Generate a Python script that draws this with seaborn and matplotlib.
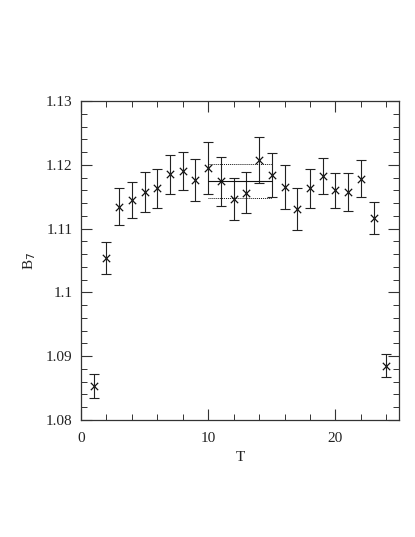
import numpy as np
import pandas as pd
import matplotlib
matplotlib.use("Agg")
import matplotlib.pyplot as plt
import seaborn as sns
from matplotlib.ticker import MultipleLocator

T = list(range(1, 25))
B7 = [1.0853, 1.1054, 1.1134, 1.1145, 1.1157, 1.1163, 1.1185, 1.1190,
      1.1176, 1.1195, 1.1174, 1.1147, 1.1156, 1.1207, 1.1184, 1.1165,
      1.1131, 1.1163, 1.1183, 1.1160, 1.1157, 1.1178, 1.1116, 1.0885]
err = [0.0019, 0.0025, 0.0029, 0.0028, 0.0031, 0.0030, 0.0030, 0.0030,
       0.0033, 0.0040, 0.0039, 0.0033, 0.0032, 0.0036, 0.0035, 0.0035,
       0.0033, 0.0030, 0.0028, 0.0027, 0.0030, 0.0029, 0.0025, 0.0018]
fit_range = [10, 15]
fit_value = 1.1175
fit_err = 0.00265

df = pd.DataFrame({"T": T, "B7": B7, "err": err})

sns.set_theme(style="ticks")
plt.rcParams['font.family'] = ['Liberation Serif', 'DejaVu Serif']

fig = plt.figure(figsize=(4.15, 5.37), dpi=100)
ax = fig.add_axes([81/415, 1 - 420/537, 318/415, 319/537])

ax.errorbar(df["T"], df["B7"], yerr=df["err"], fmt="none", ecolor="#222222",
            elinewidth=0.8, capsize=3.5, capthick=0.8)
sns.scatterplot(data=df, x="T", y="B7", marker="x", s=28, color="#111111",
                linewidth=0.9, ax=ax, legend=False)

ax.plot(fit_range, [fit_value, fit_value], color="#111111", lw=0.8)
ax.plot(fit_range, [fit_value + fit_err] * 2, color="#111111", lw=0.7, ls=(0, (1, 1)))
ax.plot(fit_range, [fit_value - fit_err] * 2, color="#111111", lw=0.7, ls=(0, (1, 1)))

ax.set_xlim(0, 25)
ax.set_ylim(1.08, 1.13)
ax.xaxis.set_minor_locator(MultipleLocator(2))
ax.yaxis.set_minor_locator(MultipleLocator(0.002))
ax.set_yticks([1.08, 1.09, 1.10, 1.11, 1.12, 1.13])
ax.set_yticklabels(["1.08", "1.09", "1.1", "1.11", "1.12", "1.13"])
ax.set_xticks([0, 10, 20])
ax.set_xticklabels(["0", "10", "20"])

ax.tick_params(which="both", direction="in", top=True, right=True,
               colors="#333333", labelcolor="#222222", labelsize=11)
ax.tick_params(which="major", length=8, width=0.8, pad=6)
ax.tick_params(axis="x", which="major", pad=9)
ax.tick_params(which="minor", length=4, width=0.7)
for s in ax.spines.values():
    s.set_linewidth(0.9)
    s.set_color("#333333")

ax.set_xlabel("T", fontsize=11, color="#222222", labelpad=4)
ax.set_ylabel(r"B$_7$", fontsize=11, color="#222222", labelpad=6)

fig.savefig("out.png", dpi=100)
